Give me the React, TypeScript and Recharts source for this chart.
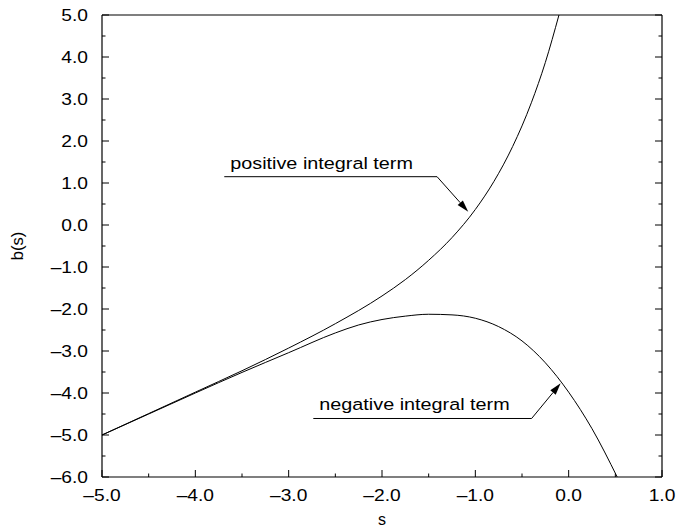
import React from 'react';
import { LineChart, Line, XAxis, YAxis, ReferenceLine, Label } from 'recharts';

// curve: positive integral term
const posS = [-5, -4.5, -4, -3.5, -3, -2.5, -2, -1.75, -1.5, -1.25, -1, -0.8, -0.6, -0.4, -0.25, -0.104];
const posB = [-5, -4.49, -3.98, -3.47, -2.93, -2.35, -1.69, -1.3, -0.84, -0.3, 0.37, 1.04, 1.87, 2.91, 3.87, 5.0];

// curve: negative integral term
const negS = [-5, -4.5, -4, -3.5, -3, -2.5, -2.25, -2, -1.75, -1.5, -1.25, -1, -0.75, -0.5, -0.25, 0, 0.25, 0.52];
const negB = [-5, -4.5, -4.0, -3.51, -3.04, -2.57, -2.38, -2.25, -2.17, -2.125, -2.14, -2.22, -2.42, -2.76, -3.28, -3.98, -4.85, -6.0];

const xMajorTicks = [-5, -4, -3, -2, -1, 0, 1];
const xMinorTicks = [-4.5, -3.5, -2.5, -1.5, -0.5, 0.5];
const yMajorTicks = [-6, -5, -4, -3, -2, -1, 0, 1, 2, 3, 4, 5];
const yMinorTicks = [-5.5, -4.5, -3.5, -2.5, -1.5, -0.5, 0.5, 1.5, 2.5, 3.5, 4.5];

const xTicks = [...xMajorTicks, ...xMinorTicks].sort((a, b) => a - b);
const yTicks = [...yMajorTicks, ...yMinorTicks].sort((a, b) => a - b);

// annotation leaders, in data units
const annotations = [
  { text: 'positive integral term', start: { x: -3.69, y: 1.15 }, bend: { x: -1.41, y: 1.15 }, tip: { x: -1.076, y: 0.317 } },
  { text: 'negative integral term', start: { x: -2.736, y: -4.607 }, bend: { x: -0.397, y: -4.607 }, tip: { x: -0.086, y: -3.77 } },
];

const posData = posS.map((s, i) => ({ s, b: posB[i] }));
const negData = negS.map((s, i) => ({ s, b: negB[i] }));

const FONT = '"Liberation Sans", Arial, Helvetica, sans-serif';
const isMajor = (v: number) => Math.abs(v - Math.round(v)) < 1e-6;
const fmt = (v: number) => (v < 0 ? '\u2013' : '') + Math.abs(v).toFixed(1);

const StretchText = ({ x, y, anchor, size = 16, children }: any) => (
  <text
    transform={`translate(${x},${y}) scale(1.2,1)`}
    textAnchor={anchor}
    fontSize={size}
    fontFamily={FONT}
    fill="#000"
  >
    {children}
  </text>
);

const BottomTick = ({ x, y, payload }: any) => {
  const major = isMajor(payload.value);
  return (
    <g>
      <line x1={x} y1={y} x2={x} y2={y - (major ? 7 : 3.5)} stroke="#000" />
      {major && <StretchText x={x} y={y + 24} anchor="middle">{fmt(payload.value)}</StretchText>}
    </g>
  );
};

const TopTick = ({ x, y, payload }: any) => (
  <line x1={x} y1={y} x2={x} y2={y + (isMajor(payload.value) ? 7 : 3.5)} stroke="#000" />
);

const LeftTick = ({ x, y, payload }: any) => {
  const major = isMajor(payload.value);
  return (
    <g>
      <line x1={x} y1={y} x2={x + (major ? 7 : 3.5)} y2={y} stroke="#000" />
      {major && <StretchText x={x - 14} y={y + 6} anchor="end">{fmt(payload.value)}</StretchText>}
    </g>
  );
};

const RightTick = ({ x, y, payload }: any) => (
  <line x1={x} y1={y} x2={x - (isMajor(payload.value) ? 7 : 3.5)} y2={y} stroke="#000" />
);

const LeaderShape = (text: string) => (p: any) => (
  <g>
    <line x1={p.x1} y1={p.y1} x2={p.x2} y2={p.y2} stroke="#000" strokeWidth={1} />
    <StretchText x={p.x1 + 6} y={p.y1 - 8} anchor="start" size={16.5}>{text}</StretchText>
  </g>
);

const ArrowShape = (p: any) => {
  const dx = p.x2 - p.x1;
  const dy = p.y2 - p.y1;
  const len = Math.sqrt(dx * dx + dy * dy) || 1;
  const ux = dx / len;
  const uy = dy / len;
  const bx = p.x2 - ux * 12;
  const by = p.y2 - uy * 12;
  const pts = `${p.x2},${p.y2} ${bx - uy * 3.5},${by + ux * 3.5} ${bx + uy * 3.5},${by - ux * 3.5}`;
  return (
    <g>
      <line x1={p.x1} y1={p.y1} x2={bx} y2={by} stroke="#000" strokeWidth={1} />
      <polygon points={pts} fill="#000" />
    </g>
  );
};

const axisLine = { stroke: '#000', strokeWidth: 1.2 };

export default function App() {
  return (
    <div style={{ position: 'absolute', left: 0, top: 0, background: '#fff' }}>
      <LineChart width={676} height={532} margin={{ top: 14, right: 13, bottom: 0, left: 0 }}>
        <XAxis
          dataKey="s"
          type="number"
          domain={[-5, 1]}
          allowDataOverflow
          ticks={xTicks}
          interval={0}
          tickSize={0}
          tickMargin={0}
          tickLine={false}
          axisLine={axisLine}
          tick={BottomTick}
          height={55}
        >
          <Label
            content={(p: any) => (
              <text
                x={p.viewBox.x + p.viewBox.width / 2}
                y={p.viewBox.y + 48}
                textAnchor="middle"
                fontSize={16}
                fontFamily={FONT}
                fill="#000"
              >
                s
              </text>
            )}
          />
        </XAxis>
        <XAxis
          xAxisId="top"
          orientation="top"
          type="number"
          domain={[-5, 1]}
          allowDataOverflow
          ticks={xTicks}
          interval={0}
          tickSize={0}
          tickMargin={0}
          tickLine={false}
          axisLine={axisLine}
          tick={TopTick}
          height={1}
        />
        <YAxis
          type="number"
          domain={[-6, 5]}
          allowDataOverflow
          ticks={yTicks}
          interval={0}
          tickSize={0}
          tickMargin={0}
          tickLine={false}
          axisLine={axisLine}
          tick={LeftTick}
          width={102}
        >
          <Label
            content={(p: any) => {
              const cx = 23;
              const cy = p.viewBox.y + p.viewBox.height / 2;
              return (
                <text
                  x={cx}
                  y={cy}
                  transform={`rotate(-90, ${cx}, ${cy})`}
                  textAnchor="middle"
                  fontSize={16.5}
                  fontFamily={FONT}
                  fill="#000"
                >
                  b(s)
                </text>
              );
            }}
          />
        </YAxis>
        <YAxis
          yAxisId="right"
          orientation="right"
          type="number"
          domain={[-6, 5]}
          allowDataOverflow
          ticks={yTicks}
          interval={0}
          tickSize={0}
          tickMargin={0}
          tickLine={false}
          axisLine={axisLine}
          tick={RightTick}
          width={1}
        />
        <Line
          data={posData}
          dataKey="b"
          type="monotone"
          stroke="#000"
          strokeWidth={1}
          dot={false}
          isAnimationActive={false}
        />
        <Line
          data={negData}
          dataKey="b"
          type="monotone"
          stroke="#000"
          strokeWidth={1}
          dot={false}
          isAnimationActive={false}
        />
        {annotations.map((a) => (
          <ReferenceLine
            key={a.text + '-h'}
            segment={[a.start, a.bend]}
            shape={LeaderShape(a.text)}
          />
        ))}
        {annotations.map((a) => (
          <ReferenceLine key={a.text + '-a'} segment={[a.bend, a.tip]} shape={ArrowShape} />
        ))}
      </LineChart>
    </div>
  );
}
